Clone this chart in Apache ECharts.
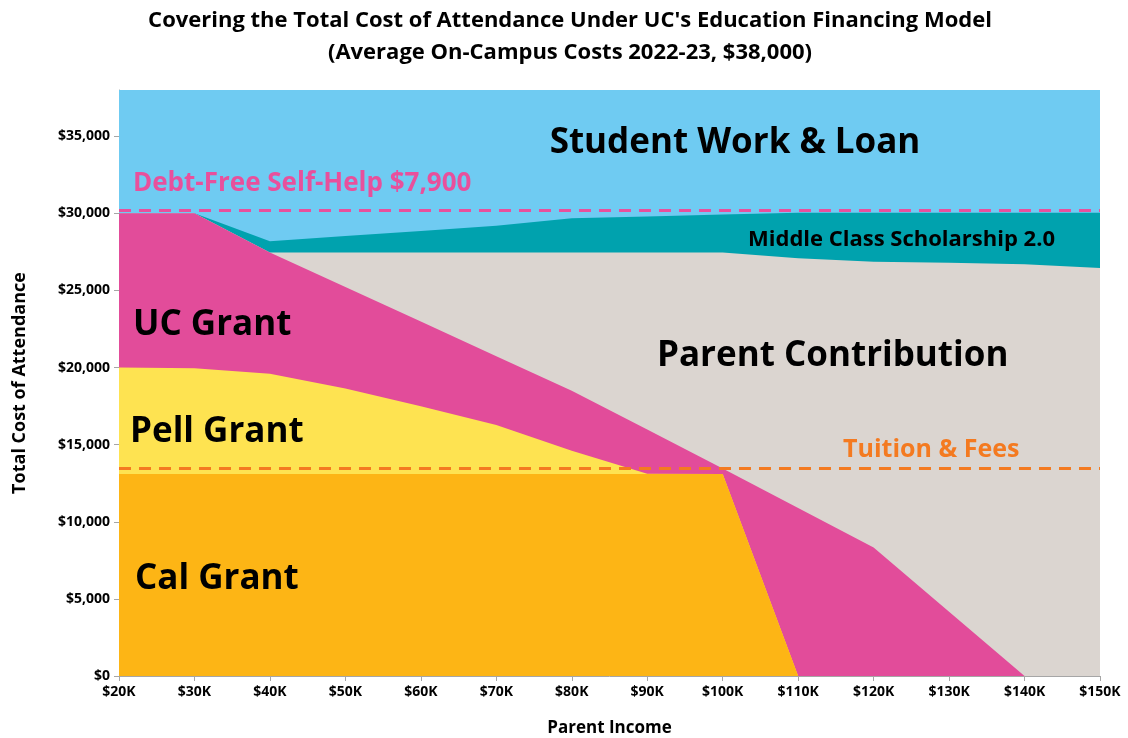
<!DOCTYPE html>
<html>
<head>
<meta charset="utf-8">
<script src="https://cdn.jsdelivr.net/npm/echarts@6/dist/echarts.min.js"></script>
<style>
  html, body { margin: 0; padding: 0; background: #fff; }
  #main { width: 1128px; height: 738px; }
</style>
</head>
<body>
<div id="main"></div>
<script>
// parent income, in $K
var incomes = [20, 30, 40, 50, 60, 70, 80, 90, 100, 110, 120, 130, 140, 150];

// top edge of each band (cumulative)
var totalCost   = [38000, 38000, 38000, 38000, 38000, 38000, 38000, 38000, 38000, 38000, 38000, 38000, 38000, 38000];
var mcsTop      = [30000, 30000, 28200, 28530, 28860, 29200, 29680, 29800, 29920, 30040, 30040, 30040, 30040, 30040];
var parentTop   = [30000, 30000, 27460, 27460, 27460, 27460, 27460, 27460, 27460, 27090, 26870, 26800, 26700, 26450];
var ucGrantTop  = [30000, 30000, 27460, 25220, 22980, 20740, 18500, 15980, 13450, 10900, 8340, 4170, 0, 0];
var pellTop     = [20000, 19950, 19600, 18650, 17500, 16280, 14600, 13110, 13100, 0, 0, 0, 0, 0];
var calGrantTop = [13100, 13100, 13100, 13100, 13100, 13100, 13100, 13100, 13100, 0, 0, 0, 0, 0];

var selfHelpLine = 30200;   // debt-free self-help level
var tuitionLine = 13450;    // tuition & fees level
var yTicks = [0, 5000, 10000, 15000, 20000, 25000, 30000, 35000];

var FONT = '"Open Sans", "Noto Sans", sans-serif';

function pairs(vals) {
    return incomes.map(function (x, i) { return [x, vals[i]]; });
}

function band(name, vals, color) {
    return {
        name: name,
        type: 'line',
        data: pairs(vals),
        symbol: 'none',
        lineStyle: { width: 0 },
        areaStyle: { color: color, opacity: 1 },
        silent: true
    };
}

function label(text, x, y, size, color, align) {
    return {
        type: 'text',
        x: x,
        y: y,
        z: 100,
        style: {
            text: text,
            fill: color || '#000',
            fontSize: size,
            fontWeight: 'bold',
            fontFamily: FONT,
            align: align || 'left',
            verticalAlign: 'middle'
        }
    };
}

var chart = echarts.init(document.getElementById('main'));

var studentBand = band('Student Work & Loan', totalCost, '#6FCBF2');
var mcsBand = band('Middle Class Scholarship 2.0', mcsTop, '#00A2AE');
var parentBand = band('Parent Contribution', parentTop, '#DBD5D0');
var ucBand = band('UC Grant', ucGrantTop, '#E24C9A');
var pellBand = band('Pell Grant', pellTop, '#FEE351');
var calBand = band('Cal Grant', calGrantTop, '#FDB515');

// dashed reference lines
calBand.markLine = {
    symbol: 'none',
    silent: true,
    label: { show: false },
    data: [
        { yAxis: selfHelpLine, lineStyle: { color: '#E8509C', width: 3, type: [12, 8] } },
        { yAxis: tuitionLine, lineStyle: { color: '#F47A20', width: 3, type: [12, 8] } }
    ]
};

var option = {
    animation: false,
    title: {
        text: "Covering the Total Cost of Attendance Under UC's Education Financing Model\n(Average On-Campus Costs 2022-23, $38,000)",
        left: 565,
        top: 0,
        textAlign: 'center',
        textStyle: {
            fontFamily: FONT,
            fontWeight: 'bold',
            fontSize: 22,
            lineHeight: 32,
            color: '#000'
        }
    },
    grid: {
        left: 119,
        right: 28,
        top: 90,
        bottom: 62,
        outerBoundsMode: 'none'
    },
    xAxis: {
        type: 'value',
        min: 20,
        max: 150,
        interval: 10,
        name: 'Parent Income',
        nameLocation: 'middle',
        nameGap: 44,
        nameTextStyle: { fontFamily: FONT, fontWeight: 'bold', fontSize: 17, color: '#000' },
        axisLine: { show: true, lineStyle: { color: '#A6A6A6', width: 1 } },
        axisTick: { show: true, length: 5, lineStyle: { color: '#A6A6A6' } },
        axisLabel: {
            margin: 9,
            fontFamily: FONT,
            fontWeight: 'bold',
            fontSize: 14,
            color: '#000',
            formatter: function (v) { return '$' + v + 'K'; }
        },
        splitLine: { show: false }
    },
    yAxis: {
        type: 'value',
        min: 0,
        max: 38000,
        interval: 5000,
        name: 'Total Cost of Attendance',
        nameLocation: 'middle',
        nameGap: 90,
        nameTextStyle: { fontFamily: FONT, fontWeight: 'bold', fontSize: 18, color: '#000' },
        axisLine: { show: true, lineStyle: { color: '#A6A6A6', width: 1 } },
        axisTick: { show: true, length: 5, lineStyle: { color: '#A6A6A6' }, customValues: yTicks },
        axisLabel: {
            margin: 9,
            fontFamily: FONT,
            fontWeight: 'bold',
            fontSize: 14,
            color: '#000',
            customValues: yTicks,
            formatter: function (v) { return '$' + v.toLocaleString('en-US'); }
        },
        splitLine: { show: false }
    },
    graphic: [
        label('Student Work & Loan', 735, 143, 35, '#000', 'center'),
        label('Debt-Free Self-Help $7,900', 133, 184, 26, '#E8509C'),
        label('Middle Class Scholarship 2.0', 748, 240, 22),
        label('UC Grant', 133, 325, 35),
        label('Parent Contribution', 657, 356, 35),
        label('Pell Grant', 130, 432, 35),
        label('Tuition & Fees', 843, 450, 25, '#F47A20'),
        label('Cal Grant', 135, 579, 35)
    ],
    series: [studentBand, mcsBand, parentBand, ucBand, pellBand, calBand]
};

chart.setOption(option);
</script>
</body>
</html>
